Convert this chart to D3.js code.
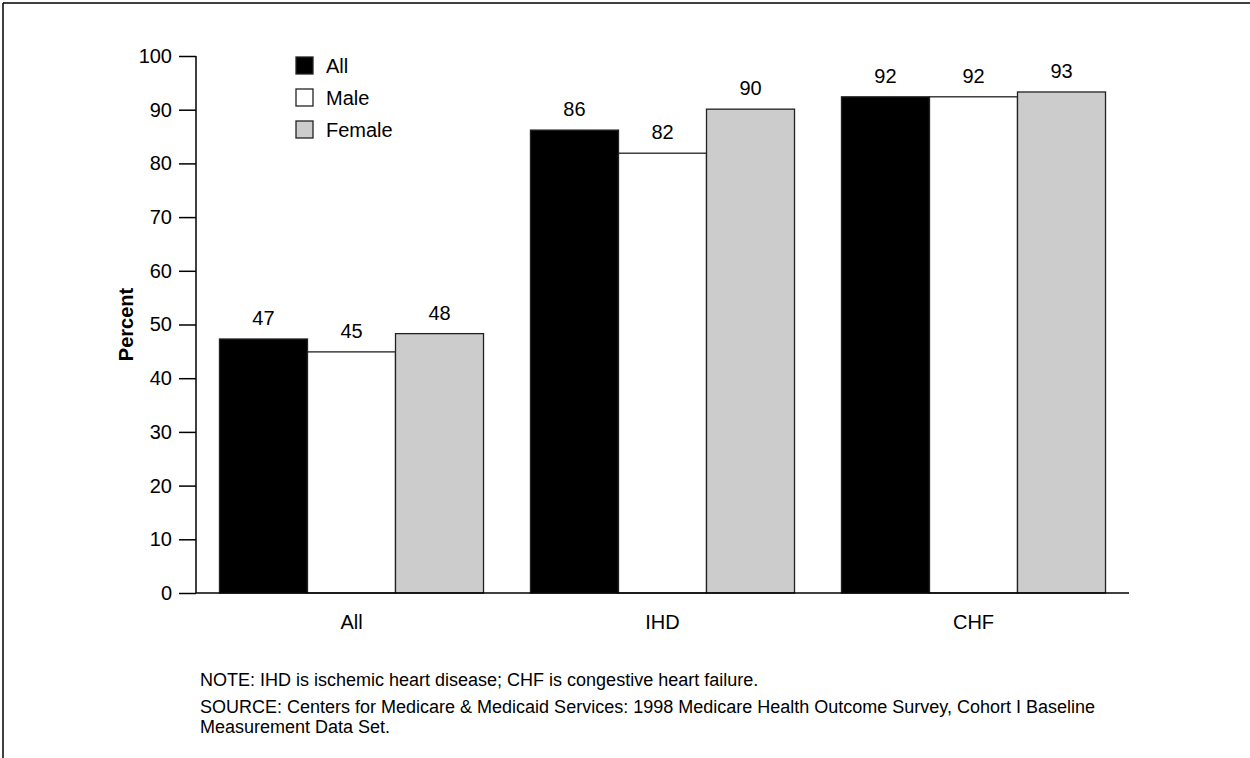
<!DOCTYPE html>
<html>
<head>
<meta charset="utf-8">
<script src="https://d3js.org/d3.v7.min.js"></script>
<style>
  body { margin: 0; background: #fff; }
  text { font-family: "Liberation Sans", Arial, Helvetica, sans-serif; fill: #000; }
</style>
</head>
<body>
<svg width="1250" height="758"></svg>
<script>
// chart values
const categories = ['All', 'IHD', 'CHF'];
const series = ['All', 'Male', 'Female'];
const seriesColors = ['#000000', '#ffffff', '#cccccc'];
const valuesAll = [47.3, 86.2, 92.4];
const valuesMale = [44.9, 81.9, 92.4];
const valuesFemale = [48.3, 90.1, 93.3];
const labelsAll = ['47', '86', '92'];
const labelsMale = ['45', '82', '92'];
const labelsFemale = ['48', '90', '93'];
const yTicks = [0, 10, 20, 30, 40, 50, 60, 70, 80, 90, 100];

const FONT = '"Liberation Sans", Arial, Helvetica, sans-serif';
const svg = d3.select('svg');

// frame
svg.append('line').attr('x1', 3).attr('y1', 3).attr('x2', 1250).attr('y2', 3)
   .attr('stroke', '#000').attr('stroke-width', 1.5);
svg.append('line').attr('x1', 3).attr('y1', 3).attr('x2', 3).attr('y2', 758)
   .attr('stroke', '#000').attr('stroke-width', 1.5);

// scales
var ys = d3.scaleLinear().domain([0, 100]).range([593, 56]);
var xs = d3.scaleBand().domain(categories).range([196, 1129])
    .paddingInner(0.151).paddingOuter(0.0755);
var xsub = d3.scaleBand().domain(series).range([0, xs.bandwidth()]);
var color = d3.scaleOrdinal().domain(series).range(seriesColors);

var vals = [valuesAll, valuesMale, valuesFemale];
var labs = [labelsAll, labelsMale, labelsFemale];
var rows = [];
categories.forEach(function(c, i) {
  series.forEach(function(s, j) {
    rows.push({cat: c, ser: s, v: vals[j][i], lab: labs[j][i]});
  });
});

// bars
svg.append('g').attr('id', 'bars')
  .selectAll('rect')
  .data(rows)
  .enter()
  .append('rect')
    .attr('x', function(d) { return xs(d.cat) + xsub(d.ser); })
    .attr('y', function(d) { return ys(d.v); })
    .attr('width', xsub.bandwidth())
    .attr('height', function(d) { return ys(0) - ys(d.v); })
    .attr('fill', function(d) { return color(d.ser); })
    .attr('stroke', '#222')
    .attr('stroke-width', 1.3);

// value labels
svg.append('g').attr('id', 'labels')
  .selectAll('text')
  .data(rows)
  .enter()
  .append('text')
    .attr('x', function(d) { return xs(d.cat) + xsub(d.ser) + xsub.bandwidth() / 2; })
    .attr('y', function(d) { return ys(d.v) - 14; })
    .attr('text-anchor', 'middle')
    .style('font-size', '20px')
    .text(function(d) { return d.lab; });

// y axis
var yAxis = svg.append('g').attr('id', 'yaxis')
    .attr('transform', 'translate(196,0)')
    .call(d3.axisLeft(ys).tickValues(yTicks).tickSize(17).tickPadding(7));
yAxis.select('.domain').attr('d', 'M0,' + ys(100) + 'V' + ys(0)).attr('stroke-width', 1.5);
yAxis.selectAll('.tick line').attr('stroke-width', 1.5);
yAxis.selectAll('.tick text').style('font-size', '20px').style('font-family', FONT);

// x axis
var xAxis = svg.append('g').attr('id', 'xaxis')
    .attr('transform', 'translate(0,' + ys(0) + ')')
    .call(d3.axisBottom(xs).tickSize(0).tickPadding(22));
xAxis.select('.domain').attr('d', 'M196,0H1129').attr('stroke-width', 1.5);
xAxis.selectAll('.tick text').style('font-size', '20px').style('font-family', FONT);

// y label
svg.append('text')
    .attr('transform', 'translate(133,' + ys(50) + ') rotate(-90)')
    .attr('text-anchor', 'middle')
    .style('font-size', '20px')
    .style('font-weight', 'bold')
    .text('Percent');

// legend
var legend = svg.append('g').attr('id', 'legend')
    .selectAll('g')
    .data(series)
    .enter()
    .append('g')
    .attr('transform', function(d, i) { return 'translate(296,' + (57 + i * 32) + ')'; });
legend.append('rect')
    .attr('width', 17).attr('height', 17)
    .attr('fill', function(d) { return color(d); })
    .attr('stroke', '#222').attr('stroke-width', 1.3);
legend.append('text')
    .attr('x', 30).attr('y', 16)
    .style('font-size', '20px')
    .text(function(d) { return d; });

// notes
var notes = ['NOTE: IHD is ischemic heart disease; CHF is congestive heart failure.',
             'SOURCE: Centers for Medicare & Medicaid Services: 1998 Medicare Health Outcome Survey, Cohort I Baseline',
             'Measurement Data Set.'];
var noteY = [686, 713, 733];
svg.append('g').attr('id', 'notes')
  .selectAll('text')
  .data(notes)
  .enter()
  .append('text')
    .attr('x', 200)
    .attr('y', function(d, i) { return noteY[i]; })
    .style('font-size', '18px')
    .text(function(d) { return d; });
</script>
</body>
</html>
